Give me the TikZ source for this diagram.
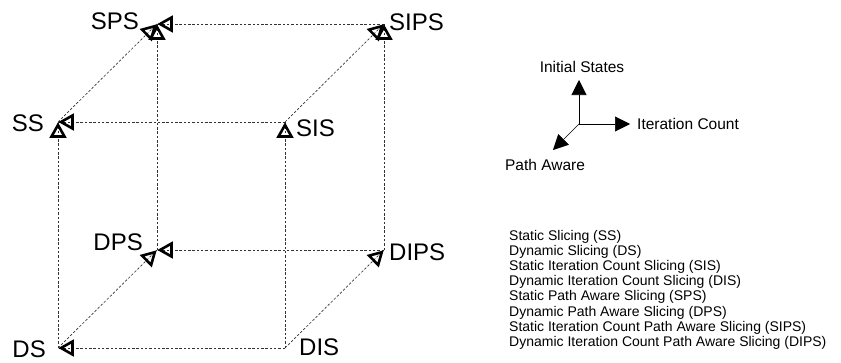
\documentclass[tikz,border=0pt]{standalone}
\usepackage{fontspec}
\setmainfont{Liberation Sans}
\usetikzlibrary{arrows.meta,decorations.markings}
\begin{document}
\begin{tikzpicture}[x=1pt,y=-1pt,
  tri/.style={solid, draw=black, line width=2.6pt, line join=miter, miter limit=3},
  edge/.style={draw=black!80, line width=0.65pt, dash pattern=on 2.5pt off 1.8pt,
    postaction={decorate, decoration={markings, mark=at position 1 with {%
      \draw[tri] (-3pt,0pt) -- (-14.5pt,6.5pt) -- (-14.5pt,-6.5pt) -- cycle;}}}},
  axis/.style={draw=black, line width=0.6pt, -{Triangle[length=15pt, width=15pt]}},
  vlabel/.style={inner sep=0pt, font=\fontsize{24}{28}\selectfont},
  alabel/.style={inner sep=0pt, font=\fontsize{15.5}{18}\selectfont}]
\useasboundingbox (0,0) rectangle (841,362);
% cube vertices
\coordinate (SS)   at (58,122);
\coordinate (SIS)  at (285,122);
\coordinate (SPS)  at (157,24);
\coordinate (SIPS) at (384,24);
\coordinate (DS)   at (58,348);
\coordinate (DIS)  at (285,348);
\coordinate (DPS)  at (157,250);
\coordinate (DIPS) at (384,250);
% labels
\node[vlabel, anchor=east] (lSPS)  at (139,21)  {SPS};
\node[vlabel, anchor=west] (lSIPS) at (389,22)  {SIPS};
\node[vlabel, anchor=east] (lSS)   at (44,123)  {SS};
\node[vlabel, anchor=west] (lSIS)  at (296,128) {SIS};
\node[vlabel, anchor=east] (lDPS)  at (143,242) {DPS};
\node[vlabel, anchor=west] (lDIPS) at (389,252) {DIPS};
\node[vlabel, anchor=east] (lDS)   at (46,349)  {DS};
\node[vlabel, anchor=west] (lDIS)  at (299,347) {DIS};
% edges
\draw[edge] (SIS) -- (SS);
\draw[edge] (DS) -- (SS);
\draw[edge] (SS) -- (SPS);
\draw[edge] (SIPS) -- (SPS);
\draw[edge] (DPS) -- (SPS);
\draw[edge] (DIS) -- (SIS);
\draw[edge] (SIS) -- (SIPS);
\draw[edge] (DIPS) -- (SIPS);
\draw[edge] (DIS) -- (DS);
\draw[edge] (DS) -- (DPS);
\draw[edge] (DIPS) -- (DPS);
\draw[edge] (DIS) -- (DIPS);
% axis legend
\coordinate (O) at (579,124);
\coordinate (Aup) at (579,80);
\coordinate (Aright) at (630,124);
\coordinate (Adiag) at (553,150);
\draw[axis] (O) -- (Aup);
\draw[axis] (O) -- (Aright);
\draw[axis] (O) -- (Adiag);
\node[alabel] (tIS) at (582,67) {Initial States};
\node[alabel, anchor=west] (tIC) at (637,124) {Iteration Count};
\node[alabel] (tPA) at (545,165) {Path Aware};
% text legend
\node[inner sep=0pt, anchor=north west, align=left,
      font=\fontsize{14}{15.15}\selectfont] (legend) at (509,230) {%
Static Slicing (SS)\\
Dynamic Slicing (DS)\\
Static Iteration Count Slicing (SIS)\\
Dynamic Iteration Count Slicing (DIS)\\
Static Path Aware Slicing (SPS)\\
Dynamic Path Aware Slicing (DPS)\\
Static Iteration Count Path Aware Slicing (SIPS)\\
Dynamic Iteration Count Path Aware Slicing (DIPS)};
\end{tikzpicture}
\end{document}
